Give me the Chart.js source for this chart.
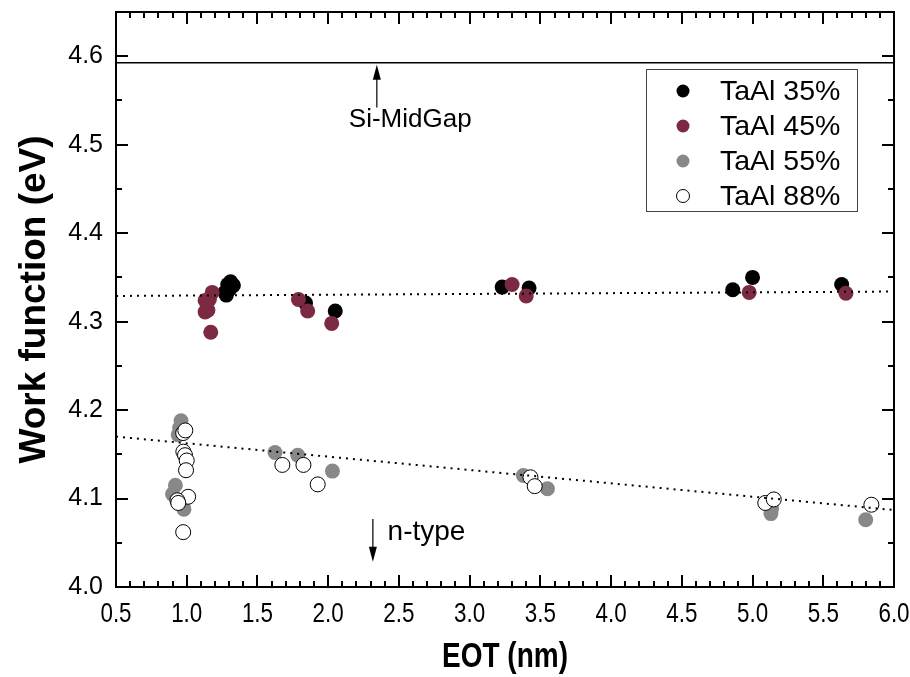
<!DOCTYPE html>
<html><head><meta charset="utf-8">
<script src="https://cdn.jsdelivr.net/npm/chart.js@4/dist/chart.umd.min.js"></script>
<style>html,body{margin:0;padding:0;background:#fff;overflow:hidden}</style>
</head><body>
<canvas id="c" width="910" height="677" style="display:block;width:910px;height:677px"></canvas>
<script>
// ---------- data ----------
const seriesLabels = ['TaAl 35%', 'TaAl 45%', 'TaAl 55%', 'TaAl 88%'];

const eot35 = [1.27, 1.29, 1.31, 1.33, 1.28, 1.30, 1.84, 2.05, 3.23, 3.42, 4.86, 5.00, 5.63];
const wf35  = [4.333, 4.342, 4.345, 4.341, 4.330, 4.336, 4.321, 4.312, 4.339, 4.338, 4.336, 4.350, 4.342];

const eot45 = [1.18, 1.16, 1.13, 1.15, 1.13, 1.17, 1.79, 1.855, 2.025, 3.30, 3.40, 4.976, 5.66];
const wf45  = [4.333, 4.325, 4.324, 4.313, 4.311, 4.288, 4.325, 4.312, 4.298, 4.342, 4.329, 4.333, 4.332];

const eot55 = [0.96, 0.95, 0.94, 0.97, 0.92, 0.90, 0.98, 1.624, 1.785, 2.03, 3.38, 3.55, 5.13, 5.135, 5.80];
const wf55  = [4.188, 4.180, 4.172, 4.176, 4.115, 4.105, 4.088, 4.152, 4.149, 4.131, 4.126, 4.111, 4.083, 4.089, 4.076];

const eot88 = [0.975, 0.99, 0.976, 0.988, 1.0, 0.995, 1.01, 0.934, 0.94, 0.975, 1.676, 1.825, 1.926, 3.43, 3.46, 5.09, 5.15, 5.84];
const wf88  = [4.174, 4.177, 4.153, 4.149, 4.143, 4.132, 4.102, 4.098, 4.095, 4.062, 4.138, 4.138, 4.116, 4.124, 4.114, 4.095, 4.099, 4.093];

const trendHighX = [0.5, 6.0], trendHighY = [4.329, 4.334];
const trendLowX  = [0.5, 6.0], trendLowY  = [4.170, 4.087];
const midGapX = [0.5, 6.0], midGapY = [4.5925, 4.5925];

const xTickValues = [0.5, 1.0, 1.5, 2.0, 2.5, 3.0, 3.5, 4.0, 4.5, 5.0, 5.5, 6.0];
const yTickValues = [4.0, 4.1, 4.2, 4.3, 4.4, 4.5, 4.6];
const xLabel = 'EOT (nm)';
const yLabel = 'Work function (eV)';
const midGapText = 'Si-MidGap';
const nTypeText = 'n-type';

// ---------- helpers ----------
const pts = (xs, ys) => xs.map((x, i) => ({x: x, y: ys[i]}));
const colors = ['#000000', '#7b2a42', '#888888', '#ffffff'];
const borders = ['#000000', '#7b2a42', '#888888', '#000000'];

const scatterSets = [[eot35, wf35], [eot45, wf45], [eot55, wf55], [eot88, wf88]].map((d, i) => ({
  type: 'scatter',
  label: seriesLabels[i],
  data: pts(d[0], d[1]),
  backgroundColor: colors[i],
  borderColor: borders[i],
  borderWidth: i === 3 ? 1 : 0,
  pointRadius: 7.5,
  pointHoverRadius: 7.5,
  order: 4 - i,
  isSeries: true
}));

const lineSet = (xs, ys, dash, w) => ({
  type: 'line',
  data: pts(xs, ys),
  borderColor: '#000',
  borderWidth: w,
  borderDash: dash,
  pointRadius: 0,
  fill: false,
  tension: 0,
  order: 0
});

const FONT = "'Liberation Sans', Arial, sans-serif";

const decor = {
  id: 'decor',
  afterDraw(chart) {
    const {ctx, chartArea: a, scales: {x, y}} = chart;
    ctx.save();
    ctx.strokeStyle = '#000';
    ctx.lineWidth = 2;
    ctx.lineCap = 'butt';
    // ticks
    ctx.beginPath();
    for (let v = 0.5; v <= 6.0001; v += 0.1) {
      const major = Math.abs(v * 2 - Math.round(v * 2)) < 1e-6;
      const L = major ? 12 : 6;
      const px = Math.round(x.getPixelForValue(v));
      ctx.moveTo(px, a.bottom); ctx.lineTo(px, a.bottom - L);
      ctx.moveTo(px, a.top); ctx.lineTo(px, a.top + L);
    }
    for (let v = 4.0; v <= 4.6501; v += 0.05) {
      const major = Math.abs(v * 10 - Math.round(v * 10)) < 1e-6;
      const L = major ? 12 : 6;
      const py = Math.round(y.getPixelForValue(v));
      ctx.moveTo(a.left, py); ctx.lineTo(a.left + L, py);
      ctx.moveTo(a.right, py); ctx.lineTo(a.right - L, py);
    }
    ctx.stroke();
    // frame
    ctx.strokeRect(a.left, a.top, a.right - a.left, a.bottom - a.top);

    ctx.fillStyle = '#000';
    // x tick labels (condensed)
    ctx.font = '27px ' + FONT;
    ctx.textAlign = 'center'; ctx.textBaseline = 'alphabetic';
    xTickValues.forEach(v => {
      ctx.save();
      ctx.translate(x.getPixelForValue(v), a.bottom + 35);
      ctx.scale(0.83, 1);
      ctx.fillText(v.toFixed(1), 0, 0);
      ctx.restore();
    });
    // x title (condensed bold)
    ctx.save();
    ctx.font = 'bold 35px ' + FONT;
    ctx.translate((a.left + a.right) / 2, 667);
    ctx.scale(0.8, 1);
    ctx.fillText(xLabel, 0, 0);
    ctx.restore();

    // Si-MidGap annotation
    ctx.lineWidth = 1.2;
    const ax = x.getPixelForValue(2.344);
    const aTip = y.getPixelForValue(midGapY[0]) + 2;
    const aTail = y.getPixelForValue(4.542);
    ctx.beginPath(); ctx.moveTo(ax, aTail); ctx.lineTo(ax, aTip + 12); ctx.stroke();
    ctx.beginPath(); ctx.moveTo(ax, aTip); ctx.lineTo(ax - 4, aTip + 15); ctx.lineTo(ax + 4, aTip + 15); ctx.closePath(); ctx.fill();
    ctx.font = '26px ' + FONT;
    ctx.textAlign = 'center'; ctx.textBaseline = 'alphabetic';
    ctx.fillText(midGapText, x.getPixelForValue(2.58), y.getPixelForValue(4.5195));

    // n-type annotation
    const bx = x.getPixelForValue(2.316);
    const bTop = y.getPixelForValue(4.077);
    const bTip = y.getPixelForValue(4.0285);
    ctx.beginPath(); ctx.moveTo(bx, bTop); ctx.lineTo(bx, bTip - 12); ctx.stroke();
    ctx.beginPath(); ctx.moveTo(bx, bTip); ctx.lineTo(bx - 4, bTip - 15); ctx.lineTo(bx + 4, bTip - 15); ctx.closePath(); ctx.fill();
    ctx.textAlign = 'left';
    ctx.font = '28px ' + FONT;
    ctx.fillText(nTypeText, x.getPixelForValue(2.42), y.getPixelForValue(4.0535));

    // legend
    const lx = 646, ly = 69, lw = 211, lh = 142;
    ctx.lineWidth = 1;
    ctx.strokeStyle = '#444';
    ctx.strokeRect(lx + 0.5, ly + 0.5, lw, lh);
    const series = chart.data.datasets.filter(d => d.isSeries);
    ctx.font = '28.5px ' + FONT;
    ctx.textBaseline = 'middle';
    series.forEach((d, i) => {
      const ry = 91 + i * 35;
      ctx.beginPath();
      ctx.arc(683, ry, 6.5, 0, Math.PI * 2);
      ctx.fillStyle = d.backgroundColor;
      ctx.fill();
      if (d.borderWidth) { ctx.strokeStyle = d.borderColor; ctx.lineWidth = 1; ctx.stroke(); }
      ctx.fillStyle = '#000';
      ctx.fillText(d.label, 720, ry + 1);
    });
    ctx.restore();
  }
};

new Chart(document.getElementById('c'), {
  data: {
    datasets: [
      ...scatterSets,
      lineSet(trendHighX, trendHighY, [2, 5], 2),
      lineSet(trendLowX, trendLowY, [2, 5], 2),
      lineSet(midGapX, midGapY, [], 1.5)
    ]
  },
  options: {
    responsive: false,
    devicePixelRatio: 1,
    animation: false,
    layout: {padding: {top: 12, right: 16, left: 0, bottom: 0}},
    plugins: {legend: {display: false}, tooltip: {enabled: false}},
    scales: {
      x: {
        type: 'linear', min: 0.5, max: 6.0,
        afterFit(s) { s.height = 90; s.paddingLeft = 0; s.paddingRight = 0; },
        afterBuildTicks(s) { s.ticks = xTickValues.map(v => ({value: v})); },
        grid: {display: false, drawTicks: false},
        border: {display: false},
        ticks: {display: false},
        title: {display: false}
      },
      y: {
        type: 'linear', min: 4.0, max: 4.65,
        afterFit(s) { s.width = 116; s.paddingTop = 0; s.paddingBottom = 0; },
        afterBuildTicks(s) { s.ticks = yTickValues.map(v => ({value: v})); },
        grid: {display: false, drawTicks: false},
        border: {display: false},
        ticks: {
          padding: 13, color: '#000', autoSkip: false,
          font: {family: FONT, size: 25},
          callback: v => Number(v).toFixed(1)
        },
        title: {display: true, text: yLabel, color: '#000', padding: {top: 13, bottom: 0},
          font: {family: FONT, size: 37, weight: 'bold'}}
      }
    }
  },
  plugins: [decor]
});
</script>
</body></html>
